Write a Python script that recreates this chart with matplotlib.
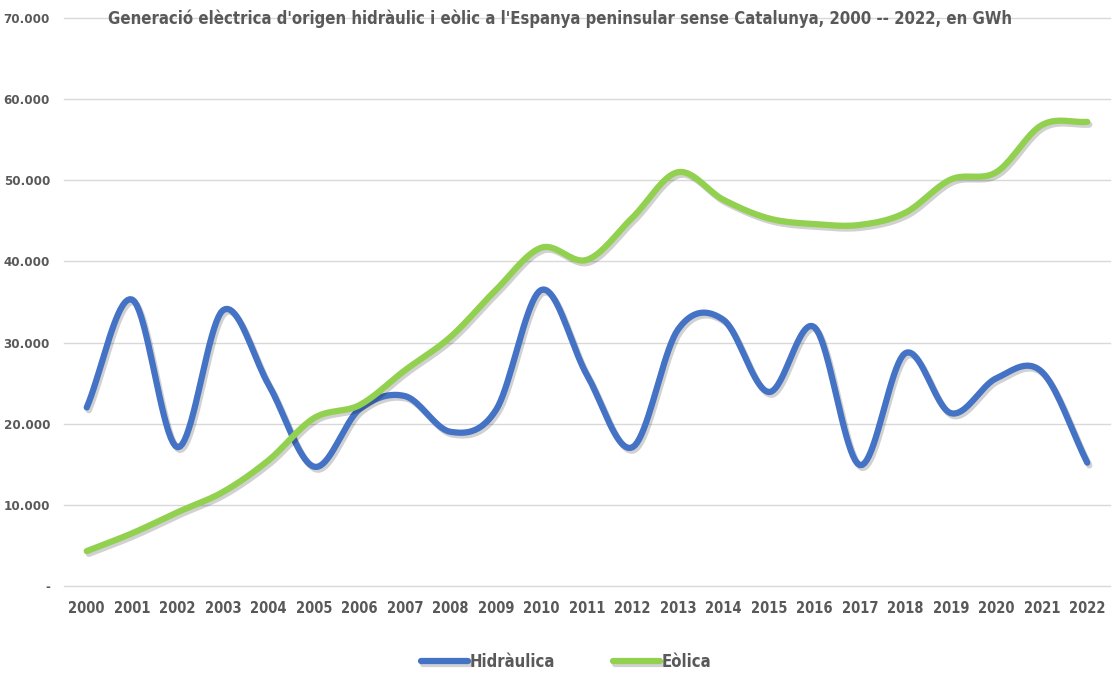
import numpy as np
import matplotlib
matplotlib.use("Agg")
import matplotlib.pyplot as plt
import matplotlib.patheffects as pe
from matplotlib.ticker import FuncFormatter

years = list(range(2000, 2023))
hidraulica = [22000, 35300, 17100, 34000, 24800, 14700, 21800, 23400, 19000, 21700,
              36500, 26000, 17100, 31600, 32800, 23900, 31900, 14900, 28700, 21300,
              25600, 26400, 15200]
eolica = [4300, 6500, 9100, 11600, 15500, 20700, 22300, 26600, 30700, 36500,
          41700, 40200, 45400, 51000, 47600, 45300, 44600, 44500, 46000, 50100,
          51000, 56800, 57200]

title = "Generació elèctrica d'origen hidràulic i eòlic a l'Espanya peninsular sense Catalunya, 2000 -- 2022, en GWh"


def smooth(y, n=20):
    # catmull-rom curve through the points, like the smoothed line in a spreadsheet
    y = np.asarray(y, dtype=float)
    p = np.concatenate([[2 * y[0] - y[1]], y, [2 * y[-1] - y[-2]]])
    xs, ys = [], []
    for i in range(1, len(p) - 2):
        t = np.linspace(0, 1, n, endpoint=False)
        p0, p1, p2, p3 = p[i - 1], p[i], p[i + 1], p[i + 2]
        seg = 0.5 * ((2 * p1) + (-p0 + p2) * t + (2 * p0 - 5 * p1 + 4 * p2 - p3) * t ** 2
                     + (-p0 + 3 * p1 - 3 * p2 + p3) * t ** 3)
        xs.append(i - 1 + t)
        ys.append(seg)
    xs.append([len(y) - 1])
    ys.append([y[-1]])
    return np.concatenate(xs), np.concatenate(ys)


plt.rcParams['font.family'] = ['DejaVu Sans']
plt.rcParams['font.stretch'] = 'condensed'

fig = plt.figure(figsize=(11.14, 6.74), dpi=100)
ax = fig.add_axes([64 / 1114, 1 - 586 / 674, 1046 / 1114, 568 / 674])

shadow = [pe.SimpleLineShadow(offset=(1.5, -2), alpha=0.18, shadow_color='k'), pe.Normal()]

x, y = smooth(hidraulica)
ax.plot(x, y, color='#4472C4', lw=4.5, solid_capstyle='round', path_effects=shadow,
        label='Hidràulica', zorder=3)
x, y = smooth(eolica)
ax.plot(x, y, color='#92D050', lw=4.5, solid_capstyle='round', path_effects=shadow,
        label='Eòlica', zorder=3)

ax.set_xlim(-0.5, len(years) - 0.5)
ax.set_ylim(0, 70000)
ax.set_yticks(range(0, 70001, 10000))
ax.yaxis.set_major_formatter(FuncFormatter(
    lambda v, p: '-' if v == 0 else f"{int(v):,}".replace(',', '.')))
ax.set_xticks(range(len(years)))
ax.set_xticklabels([str(yr) for yr in years])

ax.grid(axis='y', color='#D9D9D9', lw=1)
for gl in ax.get_ygridlines():
    gl.set_clip_on(False)
ax.set_axisbelow(True)
for s in ax.spines.values():
    s.set_visible(False)
ax.tick_params(axis='x', length=0, labelsize=10.5, colors='#595959', pad=11)
ax.tick_params(axis='y', length=0, labelsize=9.5, colors='#595959', pad=10)
for lab in ax.get_xticklabels() + ax.get_yticklabels():
    lab.set_fontweight('bold')

fig.text(0.503, 1 - 19 / 674, title, ha='center', va='center', fontsize=12,
         color='#595959', fontweight='bold')

leg = fig.legend(loc='center', bbox_to_anchor=(0.508, 1 - 662 / 674), ncol=2, frameon=False,
                 fontsize=12, handlelength=2.8, columnspacing=3.5, handletextpad=0.1)
for t in leg.get_texts():
    t.set_color('#595959')
    t.set_fontweight('bold')

fig.savefig('out.png', dpi=100)
